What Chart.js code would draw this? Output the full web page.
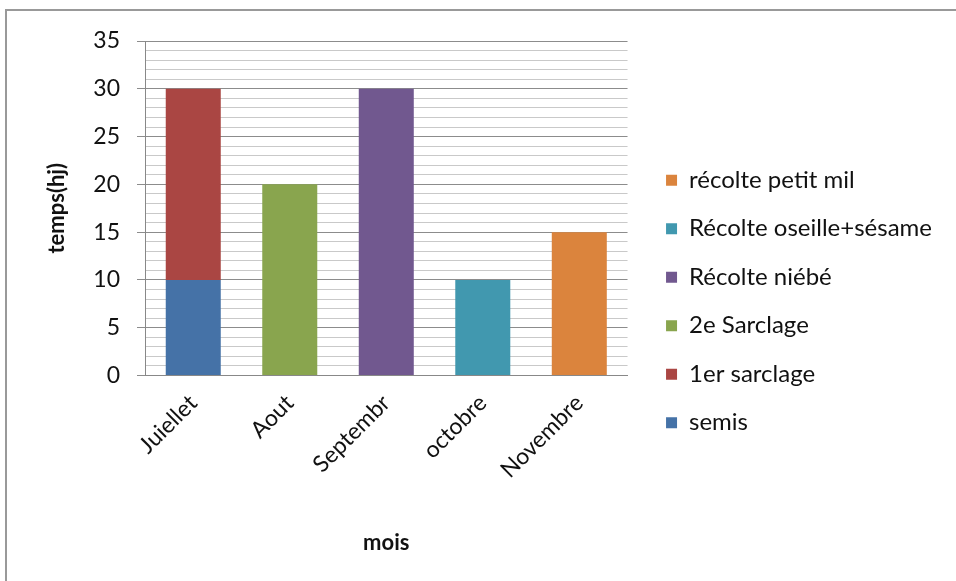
<!DOCTYPE html>
<html>
<head>
<meta charset="utf-8">
<script src="https://cdn.jsdelivr.net/npm/chart.js@4"></script>
<style>
  body { margin: 0; background: #fff; }
  #wrap { position: relative; width: 956px; height: 581px; overflow: hidden; }
  #frame { position: absolute; left: 5px; top: 9px; width: 1000px; height: 700px;
           border-left: 2px solid #999; border-top: 2px solid #999; }
  #chart { position: absolute; left: 0; top: 0; }
</style>
</head>
<body>
<div id="wrap">
  <div id="frame"></div>
  <canvas id="chart" width="956" height="581"></canvas>
</div>
<script>
// months on the x axis
var mois = ['Juiellet', 'Aout', 'Septembr', 'octobre', 'Novembre'];

// time spent per task (hj)
var semis        = [10, 0, 0, 0, 0];
var sarclage1    = [20, 0, 0, 0, 0];
var sarclage2    = [0, 20, 0, 0, 0];
var recolteNiebe = [0, 0, 30, 0, 0];
var recolteOseil = [0, 0, 0, 10, 0];
var recolteMil   = [0, 0, 0, 0, 15];

var series_names  = ['semis', '1er sarclage', '2e Sarclage', 'Récolte niébé', 'Récolte oseille+sésame', 'récolte petit mil'];
var series_values = [semis, sarclage1, sarclage2, recolteNiebe, recolteOseil, recolteMil];
var series_colors = ['#4572A7', '#AA4643', '#89A54E', '#71588F', '#4198AF', '#DB843D'];

var yTicks = [0, 5, 10, 15, 20, 25, 30, 35];

var FONT = 'Lato, "Open Sans", sans-serif';

var datasets = [];
for (var i = 0; i < series_names.length; i++) {
    datasets.push({
        label: series_names[i],
        data: series_values[i],
        backgroundColor: series_colors[i],
        borderWidth: 0,
        categoryPercentage: 1.0,
        barPercentage: 0.57
    });
}

var ctx = document.getElementById('chart').getContext('2d');
var myChart = new Chart(ctx, {
    type: 'bar',
    data: { labels: mois, datasets: datasets },
    options: {
        responsive: false,
        animation: false,
        layout: { autoPadding: false, padding: { left: 20, top: 41, right: 14, bottom: 19 } },
        plugins: {
            tooltip: { enabled: false },
            legend: {
                position: 'right',
                reverse: true,
                maxWidth: 400,
                labels: {
                    boxWidth: 11,
                    boxHeight: 11,
                    padding: 24.5,
                    color: '#111',
                    font: { family: FONT, size: 24 }
                }
            }
        },
        scales: {
            x: {
                stacked: true,
                grid: { display: false, drawTicks: false },
                border: { display: true, color: '#888', width: 1 },
                ticks: {
                    color: '#111',
                    font: { family: FONT, size: 23 },
                    maxRotation: 45,
                    minRotation: 45,
                    padding: 14
                },
                title: {
                    display: true,
                    text: 'mois',
                    color: '#111',
                    font: { family: FONT, size: 22, weight: 'bold' },
                    padding: { top: 32, bottom: 6 }
                }
            },
            y: {
                stacked: true,
                min: 0,
                max: 35,
                afterFit: function (s) { s.width = 125; },
                grid: {
                    color: function (c) { return c.tick.value % 5 === 0 ? '#8c8c8c' : '#c9c9c9'; },
                    tickColor: function (c) { return c.tick.value % 5 === 0 ? '#8c8c8c' : 'rgba(0,0,0,0)'; },
                    tickLength: 8,
                    lineWidth: 1
                },
                border: { display: true, color: '#888', width: 1 },
                ticks: {
                    stepSize: 1,
                    autoSkip: false,
                    color: '#111',
                    padding: 17,
                    font: { family: FONT, size: 23 },
                    callback: function (v) { return yTicks.indexOf(v) >= 0 ? v : ''; }
                },
                title: {
                    display: true,
                    text: 'temps(hj)',
                    color: '#111',
                    font: { family: FONT, size: 22, weight: 'bold' },
                    padding: { top: 24, bottom: 8 }
                }
            },
            gap: {
                position: 'right',
                display: true,
                grid: { display: false },
                border: { display: false },
                ticks: { display: false },
                afterFit: function (s) { s.width = 14; }
            }
        }
    }
});
</script>
</body>
</html>
